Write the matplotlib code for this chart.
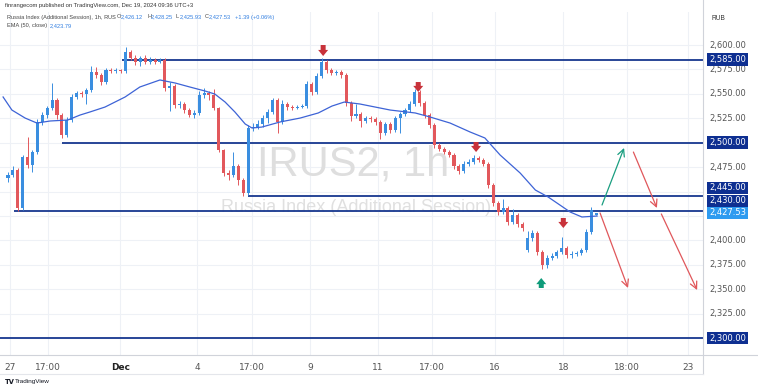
import numpy as np
import matplotlib.pyplot as plt
from matplotlib.lines import Line2D
import matplotlib.transforms as mtransforms

# hourly candles (bar index = position)
opens = [2464, 2467, 2472, 2433, 2485, 2477, 2490, 2521, 2528, 2535,
         2544, 2528, 2508, 2523, 2547, 2551, 2550, 2554, 2572, 2569,
         2562, 2574, 2573, 2574, 2573, 2593, 2587, 2583, 2587, 2583,
         2585, 2583, 2585, 2556, 2558, 2539, 2540, 2533, 2528, 2530,
         2549, 2551, 2549, 2535, 2492, 2469, 2467, 2476, 2462, 2448,
         2515, 2516, 2519, 2525, 2531, 2544, 2521, 2540, 2537, 2536,
         2537, 2538, 2560, 2552, 2568, 2583, 2574, 2571, 2572, 2569,
         2541, 2527, 2529, 2522, 2525, 2524, 2521, 2510, 2519, 2513,
         2525, 2529, 2533, 2540, 2552, 2541, 2528, 2518, 2498, 2494,
         2490, 2487, 2476, 2471, 2478, 2480, 2484, 2482, 2478, 2457,
         2438, 2429, 2433, 2419, 2426, 2417, 2390, 2402, 2408, 2388,
         2375, 2382, 2384, 2388, 2392, 2385, 2386, 2387, 2390, 2409,
         2426.12]
closes = [2467, 2472, 2433, 2485, 2477, 2490, 2521, 2528, 2535, 2544,
          2528, 2508, 2523, 2547, 2551, 2550, 2554, 2572, 2569, 2562,
          2574, 2573, 2574, 2573, 2593, 2587, 2583, 2587, 2583, 2585,
          2583, 2585, 2556, 2558, 2539, 2540, 2533, 2528, 2530, 2549,
          2551, 2549, 2535, 2492, 2469, 2467, 2476, 2462, 2448, 2515,
          2516, 2519, 2525, 2531, 2544, 2521, 2540, 2537, 2536, 2537,
          2538, 2560, 2552, 2568, 2583, 2574, 2571, 2572, 2569, 2541,
          2527, 2529, 2522, 2525, 2524, 2521, 2510, 2519, 2513, 2525,
          2529, 2533, 2540, 2552, 2541, 2528, 2518, 2498, 2494, 2490,
          2487, 2476, 2471, 2478, 2480, 2484, 2482, 2478, 2457, 2438,
          2429, 2433, 2419, 2426, 2417, 2413, 2402, 2408, 2388, 2375,
          2382, 2384, 2388, 2392, 2385, 2386, 2387, 2390, 2409, 2431,
          2427.53]
highs = [2470, 2476, 2474, 2487, 2506, 2493, 2524, 2531, 2538, 2561,
         2546, 2530, 2526, 2550, 2553, 2553, 2556, 2578, 2577, 2571,
         2576, 2576, 2576, 2575, 2598, 2595, 2590, 2589, 2590, 2588,
         2587, 2587, 2587, 2562, 2560, 2543, 2542, 2535, 2533, 2553,
         2556, 2553, 2555, 2537, 2494, 2472, 2490, 2478, 2464, 2518,
         2520, 2523, 2528, 2534, 2546, 2546, 2544, 2542, 2539, 2539,
         2540, 2563, 2562, 2571, 2587, 2585, 2576, 2574, 2574, 2571,
         2543, 2540, 2531, 2527, 2527, 2526, 2523, 2521, 2521, 2527,
         2531, 2535, 2543, 2555, 2554, 2543, 2530, 2520, 2500, 2496,
         2492, 2489, 2478, 2481, 2483, 2487, 2486, 2484, 2480, 2459,
         2440, 2442, 2435, 2432, 2428, 2419, 2410, 2411, 2410, 2390,
         2385, 2387, 2390, 2403, 2394, 2389, 2389, 2392, 2412, 2434,
         2428.25]
lows = [2460, 2465, 2430, 2431, 2474, 2470, 2488, 2518, 2525, 2533,
        2524, 2505, 2506, 2521, 2545, 2547, 2540, 2552, 2566, 2559,
        2560, 2571, 2571, 2571, 2571, 2585, 2580, 2579, 2581, 2581,
        2581, 2582, 2553, 2532, 2536, 2536, 2530, 2526, 2525, 2528,
        2546, 2544, 2533, 2490, 2466, 2462, 2465, 2457, 2445, 2446,
        2512, 2514, 2516, 2520, 2529, 2510, 2519, 2533, 2533, 2534,
        2535, 2536, 2549, 2550, 2566, 2571, 2569, 2569, 2566, 2538,
        2522, 2525, 2516, 2520, 2521, 2518, 2504, 2508, 2510, 2511,
        2510, 2527, 2531, 2538, 2538, 2525, 2515, 2495, 2491, 2488,
        2485, 2473, 2468, 2469, 2476, 2478, 2480, 2476, 2454, 2435,
        2426, 2427, 2416, 2417, 2414, 2410, 2388, 2399, 2385, 2371,
        2372, 2380, 2382, 2386, 2382, 2382, 2384, 2385, 2388, 2407,
        2425.93]

# EMA(50) read at selected bars
ema_x = [-1.0, 0.8, 3.5, 5.9, 8.6, 12.2, 14.7, 16.7, 19.8, 23.9, 26.9, 31.0,
         34.1, 37.1, 40.2, 42.2, 44.3, 46.3, 48.4, 49.8, 51.8, 55.5, 59.6,
         63.3, 66.1, 68.6, 71.8, 78.0, 83.1, 86.1, 90.2, 94.3, 97.3, 100.4,
         104.5, 107.6, 110.2, 114.7, 117.1, 120.2]
ema_y = [2546.8, 2533.4, 2525.2, 2520.1, 2522.2, 2523.2, 2528.3, 2531.4,
         2536.5, 2546.8, 2557.0, 2564.2, 2561.1, 2557.0, 2552.9, 2549.8,
         2541.6, 2531.4, 2519.1, 2515.0, 2516.0, 2521.2, 2525.2, 2530.4,
         2537.5, 2541.6, 2539.6, 2533.4, 2530.4, 2526.3, 2520.1, 2510.9,
         2504.8, 2487.4, 2468.9, 2451.5, 2444.4, 2429.0, 2423.9, 2424.9]

# horizontal levels and where they start
levels = [2585, 2500, 2445, 2430, 2300]
level_start = [23.3, 11.0, 49.0, 1.2, -1.7]
level_label_y = [2585, 2500, 2453.6, 2440.3, 2300]
last_price = 2427.53
last_label_y = 2428.0

price_ticks = [2600, 2575, 2550, 2525, 2475, 2400, 2375, 2350, 2325]
grid_prices = [2600, 2575, 2550, 2525, 2500, 2475, 2450, 2425, 2400,
               2375, 2350, 2325, 2300]

xtick_pos = [0.4, 8.2, 22.9, 38.6, 49.8, 61.6, 75.5, 86.5, 99.4, 113.3,
             126.3, 138.8]
xtick_lbl = ['27', '17:00', 'Dec', '4', '17:00', '9', '11', '17:00', '16',
             '18', '18:00', '23']

# signal markers (bar, tip price, tail price)
down_marks = [(64.3, 2588.7, 2600.0), (83.7, 2551.9, 2562.1),
              (95.5, 2490.4, 2500.7), (113.3, 2412.6, 2422.9)]
up_marks = [(108.8, 2361.4, 2351.2)]

# projected paths (start bar, start price, end bar, end price)
proj_up = [(121.2, 2436.2, 125.7, 2494.6)]
proj_down = [(127.6, 2490.4, 132.4, 2433.1), (120.8, 2428.0, 126.5, 2351.2),
             (133.3, 2427.0, 140.6, 2349.1)]

UP = '#3a8ee0'
DN = '#e2585c'
NAVY = '#17378f'
HF = 'Liberation Sans'

fig = plt.figure(figsize=(7.58, 3.9), dpi=100)
ax = fig.add_axes([0, 35 / 390, 703 / 758, 343 / 390])
ax.set_xlim(-1.63, 141.8)
ax.set_ylim(2282.6, 2633.8)

for s in ax.spines.values():
    s.set_visible(False)

# grid
for gp in grid_prices:
    ax.axhline(gp, color='#eef1f6', lw=0.8, zorder=0)
for xp in xtick_pos:
    ax.axvline(xp, color='#eef1f6', lw=0.8, zorder=0)

# watermark
ax.text(0.503, 0.555, 'IRUS2, 1h', transform=ax.transAxes, fontsize=30,
        color='#dedede', ha='center', va='center', family=HF, zorder=1)
ax.text(0.506, 0.43, 'Russia Index (Additional Session)', transform=ax.transAxes,
        fontsize=13, color='#e0e0e0', ha='center', va='center',
        family=HF, zorder=1)

# candles
xs = np.arange(len(closes))
o = np.array(opens)
c = np.array(closes)
cols = [UP if cc >= oo else DN for oo, cc in zip(o, c)]
ax.vlines(xs, lows, highs, colors=cols, lw=0.7, zorder=3)
body_lo = np.minimum(o, c)
body_h = np.maximum(np.abs(c - o), 0.9)
ax.bar(xs, body_h, bottom=body_lo, width=0.62, color=cols, lw=0, zorder=4)

# EMA
ax.plot(ema_x, ema_y, color='#3d63d6', lw=0.9, zorder=5)

# levels
for lv, st in zip(levels, level_start):
    ax.hlines(lv, st, 141.8, color=NAVY, lw=1.3, zorder=2)

# markers
for bx, tip, tail in down_marks:
    ax.annotate('', xy=(bx, tip), xytext=(bx, tail),
                arrowprops=dict(arrowstyle='simple,head_length=0.55,head_width=0.9,tail_width=0.45',
                                color='#c8323a', lw=0, shrinkA=0, shrinkB=0,
                                mutation_scale=8), zorder=6)
for bx, tip, tail in up_marks:
    ax.annotate('', xy=(bx, tip), xytext=(bx, tail),
                arrowprops=dict(arrowstyle='simple,head_length=0.55,head_width=0.9,tail_width=0.45',
                                color='#0e9b7a', lw=0, shrinkA=0, shrinkB=0,
                                mutation_scale=8), zorder=6)

for x0, y0, x1, y1 in proj_up:
    ax.annotate('', xy=(x1, y1), xytext=(x0, y0),
                arrowprops=dict(arrowstyle='->,head_length=0.5,head_width=0.25',
                                color='#1a9e80', lw=0.9, shrinkA=0, shrinkB=0), zorder=6)
for x0, y0, x1, y1 in proj_down:
    ax.annotate('', xy=(x1, y1), xytext=(x0, y0),
                arrowprops=dict(arrowstyle='->,head_length=0.5,head_width=0.25',
                                color='#e0575b', lw=0.9, shrinkA=0, shrinkB=0), zorder=6)

# x axis labels
ax.set_yticks([])
ax.set_xticks(xtick_pos)
ax.set_xticklabels(xtick_lbl, fontsize=6.5, color='#555555')
ax.tick_params(axis='x', length=0, pad=6)
for t in ax.get_xticklabels():
    if t.get_text() == 'Dec':
        t.set_fontweight('bold')
        t.set_color('#222222')

# right price scale
tr = mtransforms.blended_transform_factory(ax.transAxes, ax.transData)
LX = 1.0085
for p in price_ticks:
    ax.text(LX, p, f'{p:,.2f}', transform=tr, fontsize=6.0, color='#555555',
            ha='left', va='center', clip_on=False)
for lv, ly in zip(levels, level_label_y):
    ax.text(LX, ly, f'{lv:,.2f}', transform=tr, fontsize=6.0, color='white',
            ha='left', va='center', clip_on=False,
            bbox=dict(boxstyle='square,pad=0.22', fc='#0e2f91', ec='none'))
ax.text(LX, last_label_y, f'{last_price:,.2f}', transform=tr, fontsize=6.0,
        color='white', ha='left', va='center', clip_on=False,
        bbox=dict(boxstyle='square,pad=0.22', fc='#2e9bf0', ec='none'))

# frame lines
fig.add_artist(Line2D([703 / 758, 703 / 758], [16 / 390, 1.0], color='#d0d3da', lw=0.8))
fig.add_artist(Line2D([0, 1], [35 / 390, 35 / 390], color='#d0d3da', lw=0.8))
fig.add_artist(Line2D([0, 703 / 758], [16 / 390, 16 / 390], color='#e4e6eb', lw=0.8))

# header
fig.text(5 / 758, 1 - 6 / 390, 'finrangecom published on TradingView.com, Dec 19, 2024 09:36 UTC+3',
         fontsize=4.2, color='#333333', va='center', family=HF)
fig.text(7 / 758, 1 - 17 / 390, 'Russia Index (Additional Session), 1h, RUS',
         fontsize=4.1, color='#444444', va='center', family=HF)
hdr = [('O', '2,426.12', 117), ('H', '2,428.25', 147), ('L', '2,425.93', 176),
       ('C', '2,427.53', 205)]
for k, v, xp in hdr:
    fig.text(xp / 758, 1 - 17 / 390, k, fontsize=4.1, color='#444444', va='center', family=HF)
    fig.text((xp + 3.5) / 758, 1 - 17 / 390, v, fontsize=4.1, color='#2f7de0', va='center', family=HF)
fig.text(235 / 758, 1 - 17 / 390, '+1.39 (+0.06%)', fontsize=4.1, color='#2f7de0', va='center', family=HF)
fig.text(7 / 758, 1 - 26 / 390, 'EMA (50, close)', fontsize=4.1, color='#444444', va='center', family=HF)
fig.text(50 / 758, 1 - 26 / 390, '2,423.79', fontsize=4.1, color='#2f7de0', va='center', family=HF)
fig.text(712 / 758, 1 - 18 / 390, 'RUB', fontsize=4.8, color='#333333', va='center', family=HF)

# footer logo
fig.text(5 / 758, 1 - 382 / 390, 'TV', fontsize=4.8, fontweight='bold', color='#131722', va='center')
fig.text(15 / 758, 1 - 382 / 390, 'TradingView', fontsize=4.6, color='#131722', va='center', family=HF)

fig.savefig('out.png', dpi=100, facecolor='white')
